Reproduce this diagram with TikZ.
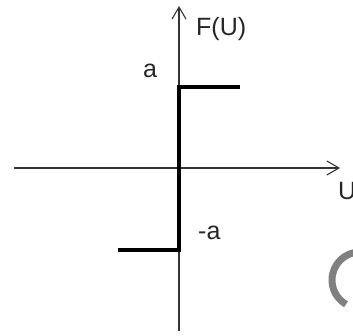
\documentclass[tikz,border=0pt]{standalone}
\usepackage{fontspec}
\setmainfont{Liberation Sans}
\usetikzlibrary{arrows.meta}
\begin{document}
\begin{tikzpicture}[x=1pt,y=-1pt,
  axis/.style={draw=black!80,line width=1.1pt,-{Straight Barb[length=12pt,width=14pt,line width=1.1pt]}},
  stepline/.style={draw=black,line width=4pt},
  lbl/.style={font=\fontsize{25}{30}\selectfont,text=black!85,inner sep=0pt}]
\useasboundingbox (0,0) rectangle (353,336);
\coordinate (xs) at (14,168);
\coordinate (xe) at (340,168);
\coordinate (ys) at (179,331);
\coordinate (ye) at (179,6);
\draw[axis] (xs) -- (xe);
\draw[axis] (ys) -- (ye);
\coordinate (p1) at (118,250);
\coordinate (p2) at (179,250);
\coordinate (p3) at (179,87);
\coordinate (p4) at (240,87);
\draw[stepline] (p1) -- (p2) -- (p3) -- (p4);
\node[lbl,anchor=west] (fu) at (196,29.5) {F(U)};
\node[lbl] (la) at (150,70.5) {a};
\node[lbl,anchor=west] (lma) at (198,233) {-a};
\node[lbl,anchor=west] (lu) at (338,191) {U};
\draw[black!50,line width=7pt] (360,252) arc[start angle=270,end angle=120,radius=28];
\end{tikzpicture}
\end{document}
